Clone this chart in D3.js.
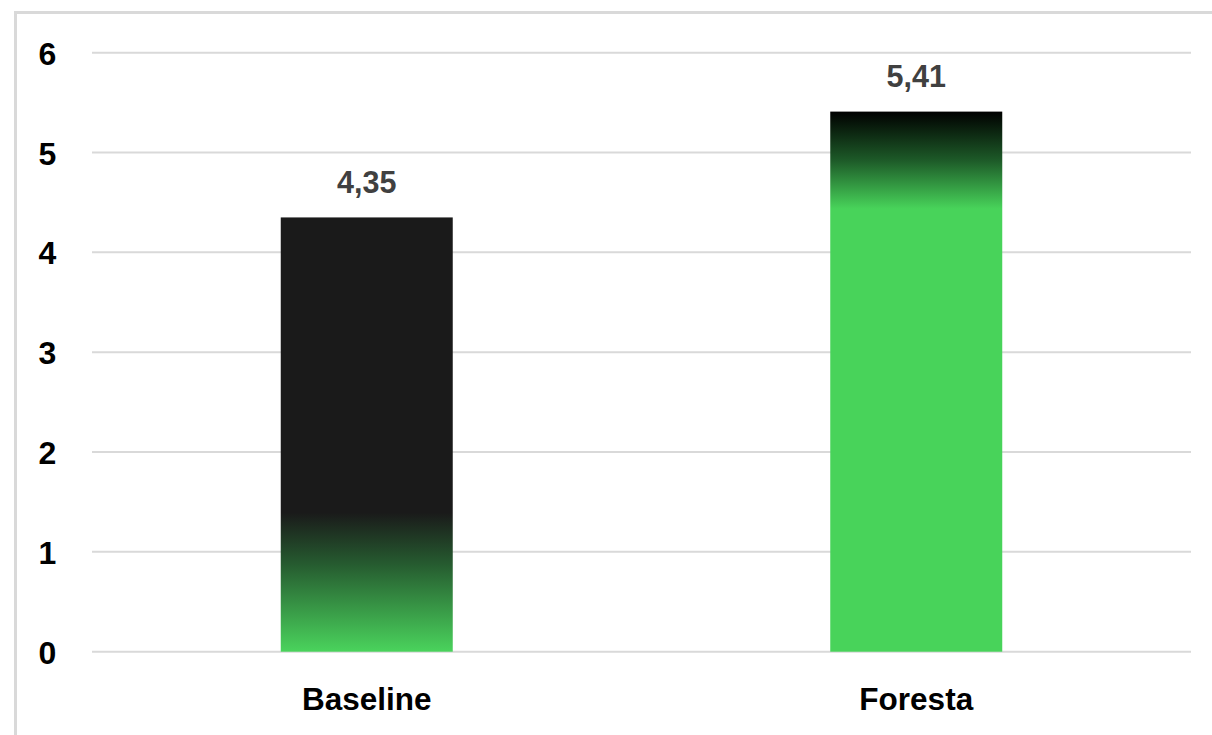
<!DOCTYPE html>
<html><head><meta charset="utf-8">
<script src="https://cdn.jsdelivr.net/npm/d3@7"></script>
<style>body{margin:0;background:#fff}svg{display:block}</style>
</head><body>
<script>
const categories = ["Baseline", "Foresta"];
const values = [4.35, 5.41];
const labels = ["4,35", "5,41"];
const yTicks = [0, 1, 2, 3, 4, 5, 6];

const W = 1212, H = 735;
const svg = d3.select("body").append("svg").attr("width", W).attr("height", H);
const font = "'Liberation Sans', Arial, sans-serif";

// frame
svg.append("path").attr("d", `M15.5,${H} V12.5 H${W}`).attr("fill", "none")
  .attr("stroke", "#d9d9d9").attr("stroke-width", 3);

const x = d3.scaleBand().domain(categories).range([92, 1191]).paddingInner(0.687).paddingOuter(0.3435);
const y = d3.scaleLinear().domain([0, 6]).range([651.7, 52.7]);

// gradients
const defs = svg.append("defs");
const g0 = defs.append("linearGradient").attr("id", "g0").attr("x1", 0).attr("y1", 0).attr("x2", 0).attr("y2", 1);
g0.append("stop").attr("offset", "0").attr("stop-color", "#1a1a1a");
g0.append("stop").attr("offset", "0.68").attr("stop-color", "#1a1a1a");
g0.append("stop").attr("offset", "0.8").attr("stop-color", "#265c30");
g0.append("stop").attr("offset", "1").attr("stop-color", "#4ad35c");
const g1 = defs.append("linearGradient").attr("id", "g1").attr("x1", 0).attr("y1", 0).attr("x2", 0).attr("y2", 1);
g1.append("stop").attr("offset", "0").attr("stop-color", "#000000");
g1.append("stop").attr("offset", "0.09").attr("stop-color", "#1d5a28");
g1.append("stop").attr("offset", "0.18").attr("stop-color", "#48d35a");
g1.append("stop").attr("offset", "1").attr("stop-color", "#48d35a");
const grads = ["url(#g0)", "url(#g1)"];

// gridlines
svg.append("g").selectAll("line").data(yTicks).join("line")
  .attr("x1", 92).attr("x2", 1191)
  .attr("y1", d => y(d)).attr("y2", d => y(d))
  .attr("stroke", "#d9d9d9").attr("stroke-width", 2);

// y axis labels
const yAxis = d3.axisLeft(y).tickValues(yTicks).tickSize(0).tickPadding(0).tickFormat(d3.format("d"));
const ya = svg.append("g").attr("transform", "translate(47.5,0)").call(yAxis);
ya.select(".domain").remove();
ya.selectAll("text").attr("font-family", font).attr("font-weight", "bold")
  .attr("font-size", 32).attr("fill", "#000").attr("dy", "0.36em").attr("text-anchor", "middle");

// bars
svg.append("g").selectAll("rect").data(values).join("rect")
  .attr("x", (d, i) => x(categories[i]))
  .attr("width", x.bandwidth())
  .attr("y", d => y(d))
  .attr("height", d => y(0) - y(d))
  .attr("fill", (d, i) => grads[i]);

// value labels
svg.append("g").selectAll("text").data(values).join("text")
  .attr("x", (d, i) => x(categories[i]) + x.bandwidth() / 2)
  .attr("y", d => y(d) - 24.5)
  .attr("text-anchor", "middle")
  .attr("font-family", font).attr("font-weight", "bold").attr("font-size", 30.5)
  .attr("fill", "#404040")
  .text((d, i) => labels[i]);

// category labels
const xAxis = d3.axisBottom(x).tickSize(0).tickPadding(0);
const xa = svg.append("g").attr("transform", "translate(0,710)").call(xAxis);
xa.select(".domain").remove();
xa.selectAll("text").attr("font-family", font).attr("font-weight", "bold")
  .attr("font-size", 31.5).attr("fill", "#000").attr("dy", 0);
</script>
</body></html>
